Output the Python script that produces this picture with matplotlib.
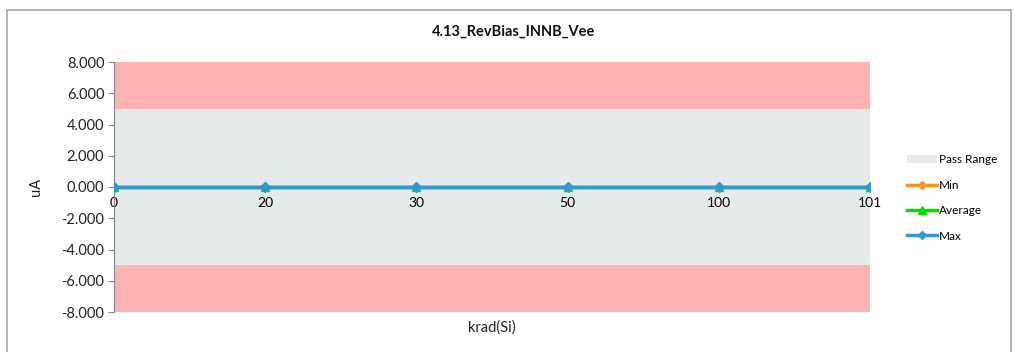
import matplotlib
matplotlib.use("Agg")
import matplotlib.pyplot as plt
from matplotlib.patches import Rectangle
from matplotlib.lines import Line2D
import numpy as np

categories = ["0", "20", "30", "50", "100", "101"]
min_vals = [0.0, 0.0, 0.0, 0.0, 0.0, 0.0]
avg_vals = [0.0, 0.0, 0.0, 0.0, 0.0, 0.0]
max_vals = [0.0, 0.0, 0.0, 0.0, 0.0, 0.0]
pass_low = -5.0
pass_high = 5.0
y_min, y_max = -8.0, 8.0
y_ticks = [8, 6, 4, 2, 0, -2, -4, -6, -8]

plt.rcParams['font.family'] = ['Lato', 'DejaVu Sans']

fig = plt.figure(figsize=(10.15, 3.52), dpi=100)
W, H = 1015, 352
# outer chart frame
fig.patches.append(Rectangle((7 / W, -0.01), (1011 - 7) / W, (352 - 10) / H + 0.01,
                             transform=fig.transFigure, fill=False,
                             edgecolor='#A6A6A6', linewidth=1.2))

ax = fig.add_axes([114 / W, 40 / H, (870 - 114) / W, (312 - 62) / H])
x = np.arange(len(categories))

ax.fill_between(x, pass_high, y_max, color='#FFB3B3', linewidth=0, zorder=1)
ax.fill_between(x, y_min, pass_low, color='#FFB3B3', linewidth=0, zorder=1)
ax.fill_between(x, pass_low, pass_high, color='#E6EBEA', linewidth=0, zorder=1)

ax.plot(x, min_vals, color='#F7941D', linewidth=2.5, marker='D', markersize=4, zorder=3)
ax.plot(x, avg_vals, color='#00E000', linewidth=2.5, marker='^', markersize=6, zorder=4)
ax.plot(x, max_vals, color='#3399CC', linewidth=2.5, marker='D', markersize=5, zorder=5)

ax.set_xlim(x[0], x[-1])
ax.set_ylim(y_min, y_max)
ax.set_yticks(y_ticks)
ax.set_yticklabels([f"{v:.3f}" for v in y_ticks], fontsize=10.5, color='#222222')
ax.set_xticks(x)
ax.set_xticklabels(categories, fontsize=8.5, color='#222222')

for s in ['top', 'right']:
    ax.spines[s].set_visible(False)
ax.spines['left'].set_color('#868686')
ax.spines['bottom'].set_position(('data', 0))
ax.spines['bottom'].set_color('#868686')
ax.spines['bottom'].set_zorder(2)
ax.tick_params(axis='y', length=4, color='#868686', pad=3)
ax.tick_params(axis='x', length=0, pad=7)

ax.set_ylabel("uA", fontsize=10.5, color='#222222')
ax.yaxis.set_label_coords(-(114 - 43) / (870 - 114), 0.5)
ax.set_xlabel("krad(Si)", fontsize=10.5, color='#222222')
ax.xaxis.set_label_coords(0.5, -0.035)

fig.text(514 / W, (352 - 32) / H, "4.13_RevBias_INNB_Vee",
         ha='center', va='center', fontsize=10.5, fontweight='bold', color='#111111')

handles = [
    Rectangle((0, 0), 1, 1, facecolor='#E6EBEA', edgecolor='none'),
    Line2D([], [], color='#F7941D', linewidth=2.5, marker='D', markersize=4),
    Line2D([], [], color='#00E000', linewidth=2.5, marker='^', markersize=6),
    Line2D([], [], color='#3399CC', linewidth=2.5, marker='D', markersize=4),
]
labels = ["Pass Range", "Min", "Average", "Max"]
fig.legend(handles, labels, loc='center left', bbox_to_anchor=(902 / W, (352 - 198) / H),
           frameon=False, fontsize=8.5, handlelength=2.6, handletextpad=0.15,
           labelspacing=1.22, borderaxespad=0)

fig.savefig("out.png", dpi=100)
